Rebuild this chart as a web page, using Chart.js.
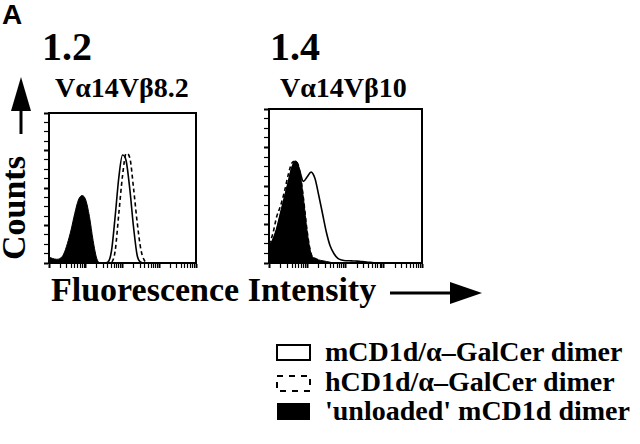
<!DOCTYPE html>
<html>
<head>
<meta charset="utf-8">
<script src="https://cdn.jsdelivr.net/npm/chart.js@4.4.1/dist/chart.umd.min.js"></script>
<style>
  body { margin: 0; background: #fff; }
  #fig { position: relative; width: 640px; height: 444px; overflow: hidden;
         font-family: "Liberation Serif", "Times New Roman", serif; font-weight: bold; color: #000; }
  .t { position: absolute; line-height: 1; white-space: nowrap; }
  canvas { position: absolute; }
  svg { position: absolute; left: 0; top: 0; }
</style>
</head>
<body>
<div id="fig">
  <svg width="640" height="444">
    <text x="2" y="24" font-family="Liberation Sans, Arial, sans-serif" font-weight="bold" font-size="28">A</text>
    <!-- Counts arrow -->
    <line x1="21" y1="134" x2="21" y2="105" stroke="#000" stroke-width="3"/>
    <polygon points="21,77 11,111 31,111" fill="#000"/>
    <!-- Fluorescence arrow -->
    <line x1="390" y1="293" x2="455" y2="293" stroke="#000" stroke-width="3"/>
    <polygon points="482,293 450,282 450,304" fill="#000"/>
    <!-- legend swatches -->
    <rect x="277" y="345" width="33" height="15" fill="none" stroke="#000" stroke-width="2"/>
    <rect x="277" y="376" width="33" height="15" fill="none" stroke="#000" stroke-width="2" stroke-dasharray="6,6"/>
    <rect x="277" y="403" width="33" height="17" fill="#000"/>
  </svg>

  <div class="t" style="left:42px;top:27px;font-size:40px">1.2</div>
  <div class="t" style="left:55px;top:74px;font-size:28px">Vα14Vβ8.2</div>
  <div class="t" style="left:270px;top:27px;font-size:40px">1.4</div>
  <div class="t" style="left:280px;top:74px;font-size:28px">Vα14Vβ10</div>
  <div class="t" style="left:-3px;top:260px;font-size:34px;transform-origin:0 0;transform:rotate(-90deg)">Counts</div>
  <div class="t" style="left:51px;top:273px;font-size:34px">Fluorescence Intensity</div>

  <div class="t" style="left:325px;top:338px;font-size:28px">mCD1d/α–GalCer dimer</div>
  <div class="t" style="left:325px;top:368px;font-size:28px">hCD1d/α–GalCer dimer</div>
  <div class="t" style="left:325px;top:397px;font-size:28px">'unloaded' mCD1d dimer</div>

  <canvas id="panel-a" width="169" height="170" style="left:37px;top:105px"></canvas>
  <canvas id="panel-b" width="175" height="174" style="left:257px;top:101px"></canvas>
</div>

<script>
// fluorescence channel, in log decades (10^0 .. 10^4)
const chan = [0, 0.1, 0.2, 0.3, 0.4, 0.5, 0.6, 0.7, 0.8, 0.9,
              1.0, 1.1, 1.2, 1.3, 1.4, 1.5, 1.6, 1.7, 1.8, 1.9,
              2.0, 2.1, 2.2, 2.3, 2.4, 2.5, 2.6, 2.7, 2.8, 3.0, 3.5, 4.0];

// Va14Vb8.2 (% of max counts)
const mA = [0, 0, 0, 0, 0, 0, 0, 0, 0, 0,
            0, 0, 0, 0, 0, 0, 0.5, 8, 31, 57,
            72, 68, 49, 24, 5, 0.5, 0, 0, 0, 0, 0, 0];
const hA = [0, 0, 0, 0, 0, 0, 0, 0, 0, 0,
            0, 0, 0, 0, 0, 0, 0, 0.5, 8, 33,
            58, 73, 70, 50, 27, 9, 1.5, 0, 0, 0, 0, 0];
const unloadedA = [4, 3, 2.5, 3, 6, 13, 22, 33, 42, 45,
                   42, 31, 15, 3, 0, 0, 0, 0, 0, 0,
                   0, 0, 0, 0, 0, 0, 0, 0, 0, 0, 0, 0];

// Va14Vb10
const mB = [11, 15, 22, 32, 42, 52, 62, 66, 60, 53,
            56, 59, 55, 44, 32, 20, 11, 6, 3, 2,
            1.5, 1.5, 1.3, 1.2, 1, 0.8, 0.5, 0.3, 0, 0, 0, 0];
const hB = [12, 19, 30, 37, 46, 57, 65, 66, 60, 42,
            20, 6, 3, 2, 1, 0.5, 0, 0, 0, 0,
            0, 0, 0, 0, 0, 0, 0, 0, 0, 0, 0, 0];
const unloadedB = [11, 15, 22, 32, 42, 52, 62, 66, 60, 42,
                   20, 6, 3, 2, 1.5, 1, 0.5, 0, 0, 0,
                   0, 0, 0, 0, 0, 0, 0, 0, 0, 0, 0, 0];

const pts = vals => chan.map((c, i) => ({x: c, y: vals[i]}));

// log tick marks 1..9 x 10^k
const logTicks = [];
for (let k = 0; k < 4; k++) {
    for (let m = 1; m < 10; m++) logTicks.push({value: k + Math.log10(m), major: m === 1});
}
logTicks.push({value: 4, major: true});

const countTicks = [];
for (let i = 0; i <= 16; i++) countTicks.push({value: i * 6.25, major: i % 4 === 0});

// top and right side of the box
const frame = {
    id: 'frame',
    afterDraw(chart) {
        const a = chart.chartArea, ctx = chart.ctx;
        ctx.save();
        ctx.strokeStyle = '#000';
        ctx.lineWidth = 2;
        ctx.strokeRect(a.left, a.top, a.right - a.left, a.bottom - a.top);
        ctx.restore();
    }
};

function histogram(id, m, h, unloaded) {
    new Chart(document.getElementById(id), {
        type: 'line',
        data: {
            datasets: [
                {label: "'unloaded' mCD1d dimer", data: pts(unloaded), borderColor: '#000',
                 backgroundColor: '#000', fill: 'origin', borderWidth: 1},
                {label: 'hCD1d/α–GalCer dimer', data: pts(h), borderColor: '#000',
                 borderDash: [4, 3], borderWidth: 1.6, fill: false},
                {label: 'mCD1d/α–GalCer dimer', data: pts(m), borderColor: '#000',
                 borderWidth: 1.6, fill: false}
            ]
        },
        options: {
            responsive: false,
            animation: false,
            events: [],
            cubicInterpolationMode: 'monotone',
            elements: { point: { radius: 0 } },
            layout: { padding: { left: 4, top: 8, right: 10, bottom: 4 } },
            plugins: { legend: { display: false }, tooltip: { enabled: false } },
            scales: {
                x: {
                    type: 'linear', min: 0, max: 4,
                    afterBuildTicks: s => { s.ticks = logTicks.map(t => ({...t})); },
                    afterFit: s => { s.height = 8; },
                    ticks: { display: false },
                    grid: { drawOnChartArea: false, tickLength: 5, tickColor: '#000',
                            tickWidth: c => (c.tick && c.tick.major ? 2 : 1.2) },
                    border: { color: '#000', width: 2 }
                },
                y: {
                    min: 0, max: 100,
                    afterBuildTicks: s => { s.ticks = countTicks.map(t => ({...t})); },
                    afterFit: s => { s.width = 8; },
                    ticks: { display: false },
                    grid: { drawOnChartArea: false, tickLength: 5, tickColor: '#000',
                            tickWidth: c => (c.tick && c.tick.major ? 2 : 1.2) },
                    border: { color: '#000', width: 2 }
                }
            }
        },
        plugins: [frame]
    });
}

histogram('panel-a', mA, hA, unloadedA);
histogram('panel-b', mB, hB, unloadedB);
</script>
</body>
</html>
